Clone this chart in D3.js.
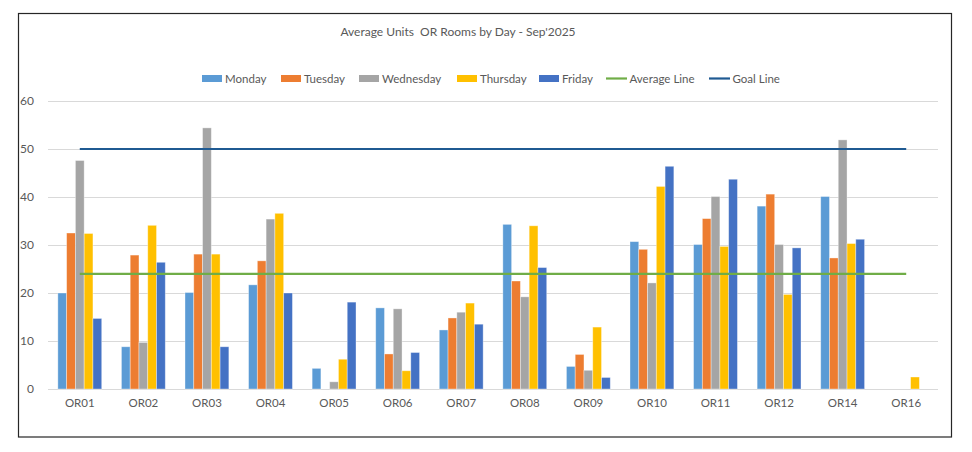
<!DOCTYPE html>
<html lang="en">
<head>
<meta charset="utf-8">
<script src="https://d3js.org/d3.v7.min.js"></script>
<title>Average Units OR Rooms by Day</title>
<style>
body{ margin:0; background:#fff; font-family: 'Lato', 'Liberation Sans', sans-serif; }
svg{ display:block; }
</style>
</head>
<body>
<svg width="972" height="452"></svg>
<script>
// data
var rooms = ["OR01","OR02","OR03","OR04","OR05","OR06","OR07","OR08","OR09","OR10","OR11","OR12","OR14","OR16"];
var days = ["Monday","Tuesday","Wednesday","Thursday","Friday"];
var monday    = [20.0, 8.8, 20.1, 21.7, 4.3, 16.9, 12.3, 34.3, 4.7, 30.7, 30.1, 38.1, 40.1, 0];
var tuesday   = [32.5, 27.9, 28.1, 26.7, 0, 7.3, 14.8, 22.5, 7.2, 29.1, 35.5, 40.6, 27.3, 0];
var wednesday = [47.6, 9.7, 54.4, 35.4, 1.5, 16.7, 16.0, 19.2, 3.9, 22.1, 40.1, 30.1, 51.9, 0];
var thursday  = [32.4, 34.1, 28.1, 36.6, 6.2, 3.8, 17.9, 34.0, 12.9, 42.2, 29.7, 19.7, 30.3, 2.5];
var friday    = [14.7, 26.4, 8.8, 20.0, 18.1, 7.6, 13.5, 25.3, 2.4, 46.4, 43.7, 29.4, 31.2, 0];
var averageLine = 24;
var goalLine = 50;
var yTicks = [0,10,20,30,40,50,60];

var series = [monday, tuesday, wednesday, thursday, friday];
var colors = ["#5B9BD5","#ED7D31","#A5A5A5","#FFC000","#4472C4"];
var avgColor = "#70AD47", goalColor = "#1F5A92";
var textColor = "#595959";

var svg = d3.select("svg");

// outer frame
svg.append("rect")
.attr("x",18.5).attr("y",13.5)
.attr("width",933).attr("height",423.5)
.attr("fill","none")
.attr("stroke","#262626")
.attr("stroke-width",1.2);

var plotLeft = 48, plotRight = 938, plotTop = 101, plotBottom = 389;

var y = d3.scaleLinear().domain([0,60]).range([plotBottom, plotTop]);
var x0 = d3.scaleBand().domain(rooms).range([plotLeft,plotRight]).paddingInner(0.31).paddingOuter(0.155);
var x1 = d3.scaleBand().domain(days).range([0, x0.bandwidth()]);

// grid
svg.append("g").selectAll("line")
.data(yTicks).enter()
.append("line")
.attr("x1",plotLeft).attr("x2",plotRight)
.attr("y1",function(d){return y(d)+0.5})
.attr("y2",function(d){return y(d)+0.5})
.attr("stroke","#D9D9D9")
.attr("stroke-width",1);

// y labels
var yAxis = d3.axisLeft(y).tickValues(yTicks).tickSize(0).tickPadding(0);
var gy = svg.append("g").attr("transform","translate(34,0)").call(yAxis);
gy.select(".domain").remove();
gy.selectAll("text")
.attr("fill",textColor)
.attr("font-size",12)
.attr("font-family","Lato, 'Liberation Sans', sans-serif");

// x labels
var xAxis = d3.axisBottom(x0).tickSize(0).tickPadding(0);
var gx = svg.append("g").attr("transform","translate(0,399)").call(xAxis);
gx.select(".domain").remove();
gx.selectAll("text")
.attr("fill",textColor)
.attr("font-size",11.5)
.attr("font-family","Lato, 'Liberation Sans', sans-serif");

// bars
var groups = svg.append("g").selectAll("g")
.data(rooms).enter()
.append("g")
.attr("transform",function(d){return "translate("+x0(d)+",0)"});

groups.selectAll("rect")
.data(function(d,i){return days.map(function(day,j){return {day:day, value:series[j][i], j:j}})})
.enter()
.append("rect")
.attr("x",function(d){return x1(d.day)})
.attr("width",x1.bandwidth())
.attr("y",function(d){return y(d.value)})
.attr("height",function(d){return y(0)-y(d.value)})
.attr("fill",function(d){return colors[d.j]})
.attr("stroke",function(d){return d.value>0 ? "#ffffff" : "none"})
.attr("stroke-opacity",0.45)
.attr("stroke-width",0.8);

// average and goal lines
var xs = x0(rooms[0]) + x0.bandwidth()/2;
var xe = x0(rooms[rooms.length-1]) + x0.bandwidth()/2;
[[averageLine, avgColor],[goalLine, goalColor]].forEach(function(l){
  svg.append("line")
  .attr("x1",xs).attr("x2",xe)
  .attr("y1",y(l[0])).attr("y2",y(l[0]))
  .attr("stroke",l[1])
  .attr("stroke-width",2.2);
});

// title
svg.append("text")
.attr("x",458).attr("y",36)
.attr("text-anchor","middle")
.attr("fill",textColor)
.attr("font-size",12)
.attr("font-family","Lato, 'Liberation Sans', sans-serif")
.style("white-space","pre")
.text("Average Units  OR Rooms by Day - Sep'2025");

// legend
var legend = [
  {label:"Monday", color:colors[0], type:"box", x:202},
  {label:"Tuesday", color:colors[1], type:"box", x:281},
  {label:"Wednesday", color:colors[2], type:"box", x:359},
  {label:"Thursday", color:colors[3], type:"box", x:457},
  {label:"Friday", color:colors[4], type:"box", x:539},
  {label:"Average Line", color:avgColor, type:"line", x:606},
  {label:"Goal Line", color:goalColor, type:"line", x:709}
];
var lg = svg.append("g").selectAll("g")
.data(legend).enter()
.append("g")
.attr("transform",function(d){return "translate("+d.x+",78)"});

lg.filter(function(d){return d.type=="box"}).append("rect")
.attr("x",0).attr("y",-3)
.attr("width",20).attr("height",7)
.attr("fill",function(d){return d.color});

lg.filter(function(d){return d.type=="line"}).append("line")
.attr("x1",0).attr("x2",21)
.attr("y1",0.5).attr("y2",0.5)
.attr("stroke",function(d){return d.color})
.attr("stroke-width",2.2);

lg.append("text")
.attr("x",function(d){return d.type=="box" ? 23 : 23.5})
.attr("y",4.5)
.attr("fill",textColor)
.attr("font-size",11.5)
.attr("font-family","Lato, 'Liberation Sans', sans-serif")
.text(function(d){return d.label});
</script>
</body>
</html>
